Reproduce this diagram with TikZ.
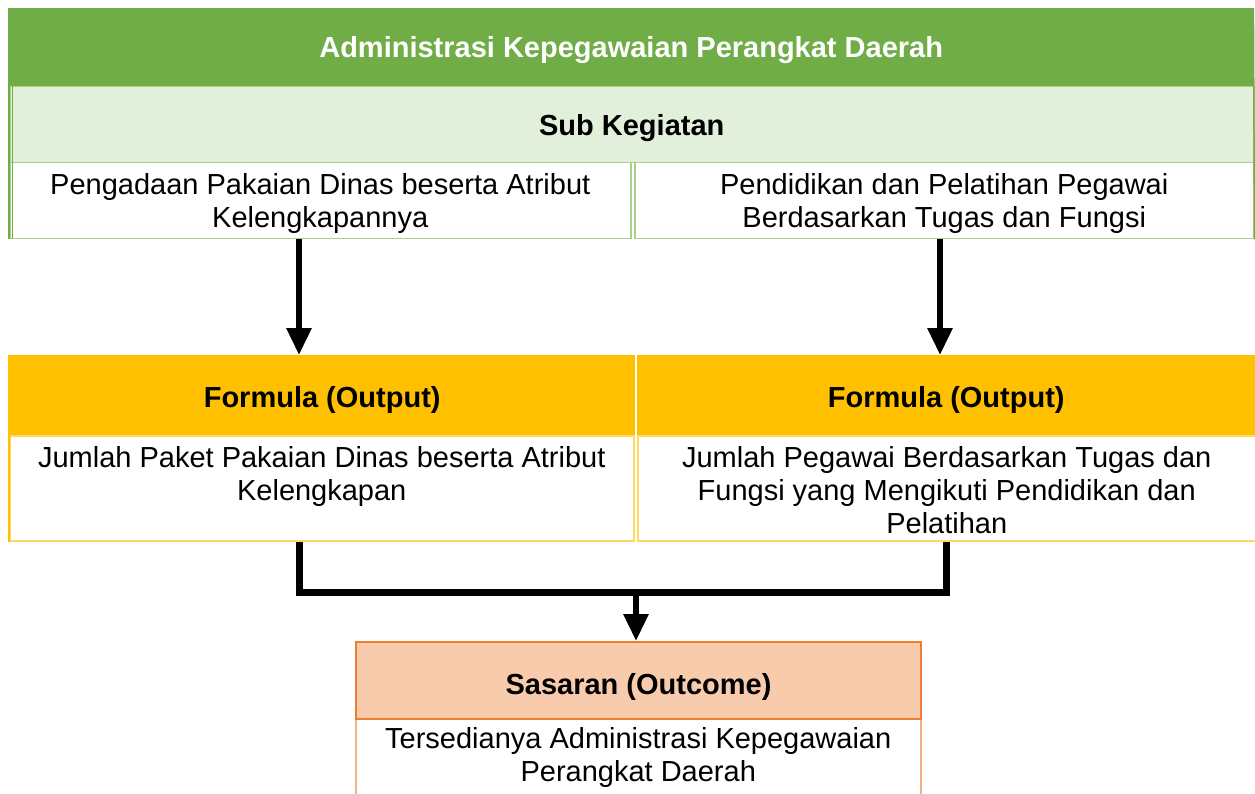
\documentclass[tikz,border=0pt]{standalone}
\usepackage{fontspec}
\setmainfont{Liberation Sans}
\usetikzlibrary{positioning}
\usetikzlibrary{arrows.meta}
\definecolor{hijau}{HTML}{70AD47}
\definecolor{hijaumuda}{HTML}{E2EFDA}
\definecolor{garishijau}{HTML}{A9D08E}
\definecolor{kuning}{HTML}{FFC000}
\definecolor{kuningmuda}{HTML}{FFD966}
\definecolor{oranye}{HTML}{ED7D31}
\definecolor{salem}{HTML}{F8CBAD}
\definecolor{garissalem}{HTML}{F4B183}

\tikzset{
    kotak/.style={rectangle, inner sep=0pt, anchor=north west, align=center,
        font=\fontsize{29}{33}\selectfont},
    judulbox/.style={kotak, fill=hijau, draw=hijau, text=white, text height=21pt, text depth=0pt,
        font=\bfseries\fontsize{29}{33}\selectfont},
    subbox/.style={kotak, fill=hijaumuda, draw=garishijau, line width=1.5pt, text height=21pt, text depth=0pt,
        font=\bfseries\fontsize{29}{33}\selectfont},
    isihijau/.style={kotak, fill=white, draw=garishijau, line width=1.5pt, text depth=0pt},
    kepala/.style={kotak, fill=kuning, text height=25pt, text depth=0pt,
        font=\bfseries\fontsize{29}{33}\selectfont},
    isikuning/.style={kotak, fill=white, draw=kuningmuda, line width=1.5pt},
    sasaranbox/.style={kotak, fill=salem, draw=oranye, line width=2pt, text height=27pt, text depth=0pt,
        font=\bfseries\fontsize{29}{33}\selectfont},
    isisalem/.style={kotak, fill=white, draw=garissalem, line width=1.5pt},
    teks/.style={inner sep=0pt, align=center, font=\fontsize{29}{33}\selectfont},
    panah/.style={line width=6pt, -{Triangle[length=27pt, width=24pt]}},
    garis/.style={line width=7pt}
}

\begin{document}
\begin{tikzpicture}[x=1pt, y=-1pt]
    \useasboundingbox (0,0) rectangle (1255,794);

    % judul dan sub kegiatan
    \node[judulbox, minimum width=1244pt, minimum height=78pt] (judul) at (9,8)
        {Administrasi Kepegawaian Perangkat Daerah};
    \node[subbox, minimum width=1244pt, minimum height=76pt] (subkeg) at (9,86) {Sub Kegiatan};
    \node[isihijau, minimum width=621pt, minimum height=76pt] (kiri1) at (9,162)
        {Pengadaan Pakaian Dinas beserta Atribut\\Kelengkapannya};
    \node[isihijau, minimum width=619pt, minimum height=76pt] (kanan1) at (634,162)
        {Pendidikan dan Pelatihan Pegawai\\Berdasarkan Tugas dan Fungsi};
    \draw[hijau, line width=1.5pt] (judul.north west) -- (kiri1.south west);
    \draw[hijau, line width=1pt] ([xshift=3pt]subkeg.north west) -- ([xshift=3pt]kiri1.south west);
    \draw[hijau, line width=1.5pt] (judul.north east) -- (kanan1.south east);

    % formula (output)
    \node[kepala, minimum width=626pt, minimum height=80pt] (formkiri) at (9,355) {Formula (Output)};
    \node[kepala, minimum width=618pt, minimum height=80pt] (formkanan) at (637,355) {Formula (Output)};
    \node[isikuning, minimum width=624pt, minimum height=105pt] (jmlkiri) at (9,435) {};
    \node[isikuning, minimum width=618pt, minimum height=105pt] (jmlkanan) at (637,435) {};
    \draw[kuning, line width=1.5pt] (formkiri.north west) -- (jmlkiri.south west);
    \node[teks, below=11pt of jmlkiri.north] (teksjmlkiri)
        {Jumlah Paket Pakaian Dinas beserta Atribut\\Kelengkapan};
    \node[teks, below=11pt of jmlkanan.north] (teksjmlkanan)
        {Jumlah Pegawai Berdasarkan Tugas dan\\Fungsi yang Mengikuti Pendidikan dan\\Pelatihan};

    % sasaran (outcome)
    \node[isisalem, minimum width=565pt, minimum height=82pt] (tersedia) at (355,718) {};
    \node[sasaranbox, minimum width=565pt, minimum height=77pt] (sasaran) at (355,641) {Sasaran (Outcome)};
    \node[teks, below=9pt of tersedia.north] (tekstersedia)
        {Tersedianya Administrasi Kepegawaian\\Perangkat Daerah};

    % panah
    \coordinate (xkiri) at (299,0);
    \coordinate (xkanan) at (940,0);
    \coordinate (xkanan2) at (946,0);
    \coordinate (sambung) at (636,592);
    \draw[panah] (kiri1.south -| xkiri) -- (formkiri.north -| xkiri);
    \draw[panah] (kanan1.south -| xkanan) -- (formkanan.north -| xkanan);
    \draw[garis] (jmlkiri.south -| xkiri) -- (sambung -| xkiri) -- (sambung -| xkanan2)
        -- (jmlkanan.south -| xkanan2);
    \draw[panah] (sambung) -- (sasaran.north -| sambung);
\end{tikzpicture}
\end{document}
